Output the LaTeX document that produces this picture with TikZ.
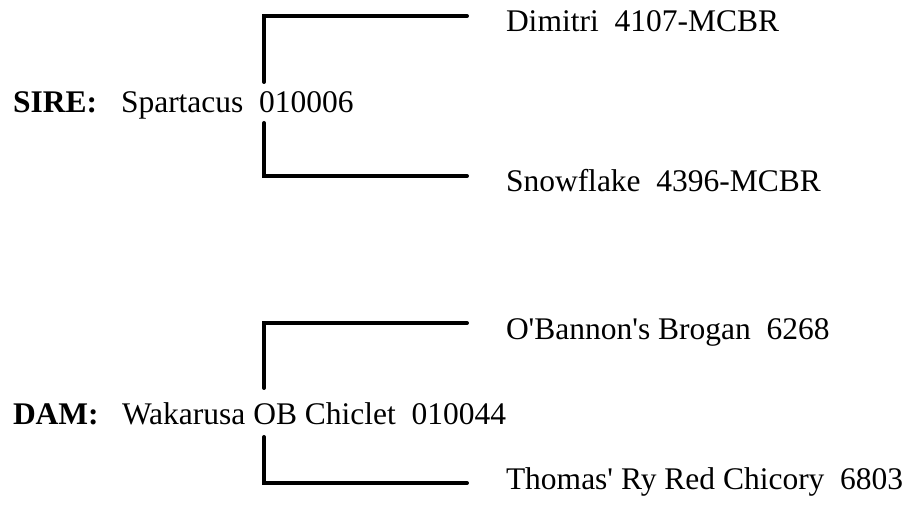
\documentclass[tikz,border=0pt]{standalone}
\usepackage{fontspec}
\setmainfont{Liberation Serif}
\tikzset{lbl/.style={anchor=base west,inner sep=0pt}}
\begin{document}
\begin{tikzpicture}[x=0.5pt,y=-0.5pt,line width=2pt,line cap=round,font=\fontsize{15.75}{19}\selectfont]
\useasboundingbox (0,0) rectangle (907,507);
% sire side
\node[lbl,font=\fontsize{15.75}{19}\selectfont\bfseries] (sirelbl) at (11,113) {SIRE:};
\node[lbl] (sire) at (119,113) {Spartacus\ \ 010006};
\node[lbl] (dimitri) at (504,32) {Dimitri\ \ 4107-MCBR};
\node[lbl] (snowflake) at (504,192) {Snowflake\ \ 4396-MCBR};
\coordinate (s1) at (264,82);
\coordinate (s2) at (264,123);
\coordinate (sa) at (467,16);
\coordinate (sb) at (467,176);
\draw (s1) |- (sa);
\draw (s2) |- (sb);
% dam side
\node[lbl,font=\fontsize{15.75}{19}\selectfont\bfseries] (damlbl) at (11,425) {DAM:};
\node[lbl] (dam) at (120,425) {Wakarusa OB Chiclet\ \ 010044};
\node[lbl] (obannon) at (504,340) {O\textquotesingle Bannon\textquotesingle s Brogan\ \ 6268};
\node[lbl] (thomas) at (504,490) {Thomas\textquotesingle\ Ry Red Chicory\ \ 6803};
\coordinate (d1) at (264,388);
\coordinate (d2) at (264,437);
\coordinate (da) at (467,323);
\coordinate (db) at (467,483);
\draw (d1) |- (da);
\draw (d2) |- (db);
\end{tikzpicture}
\end{document}
